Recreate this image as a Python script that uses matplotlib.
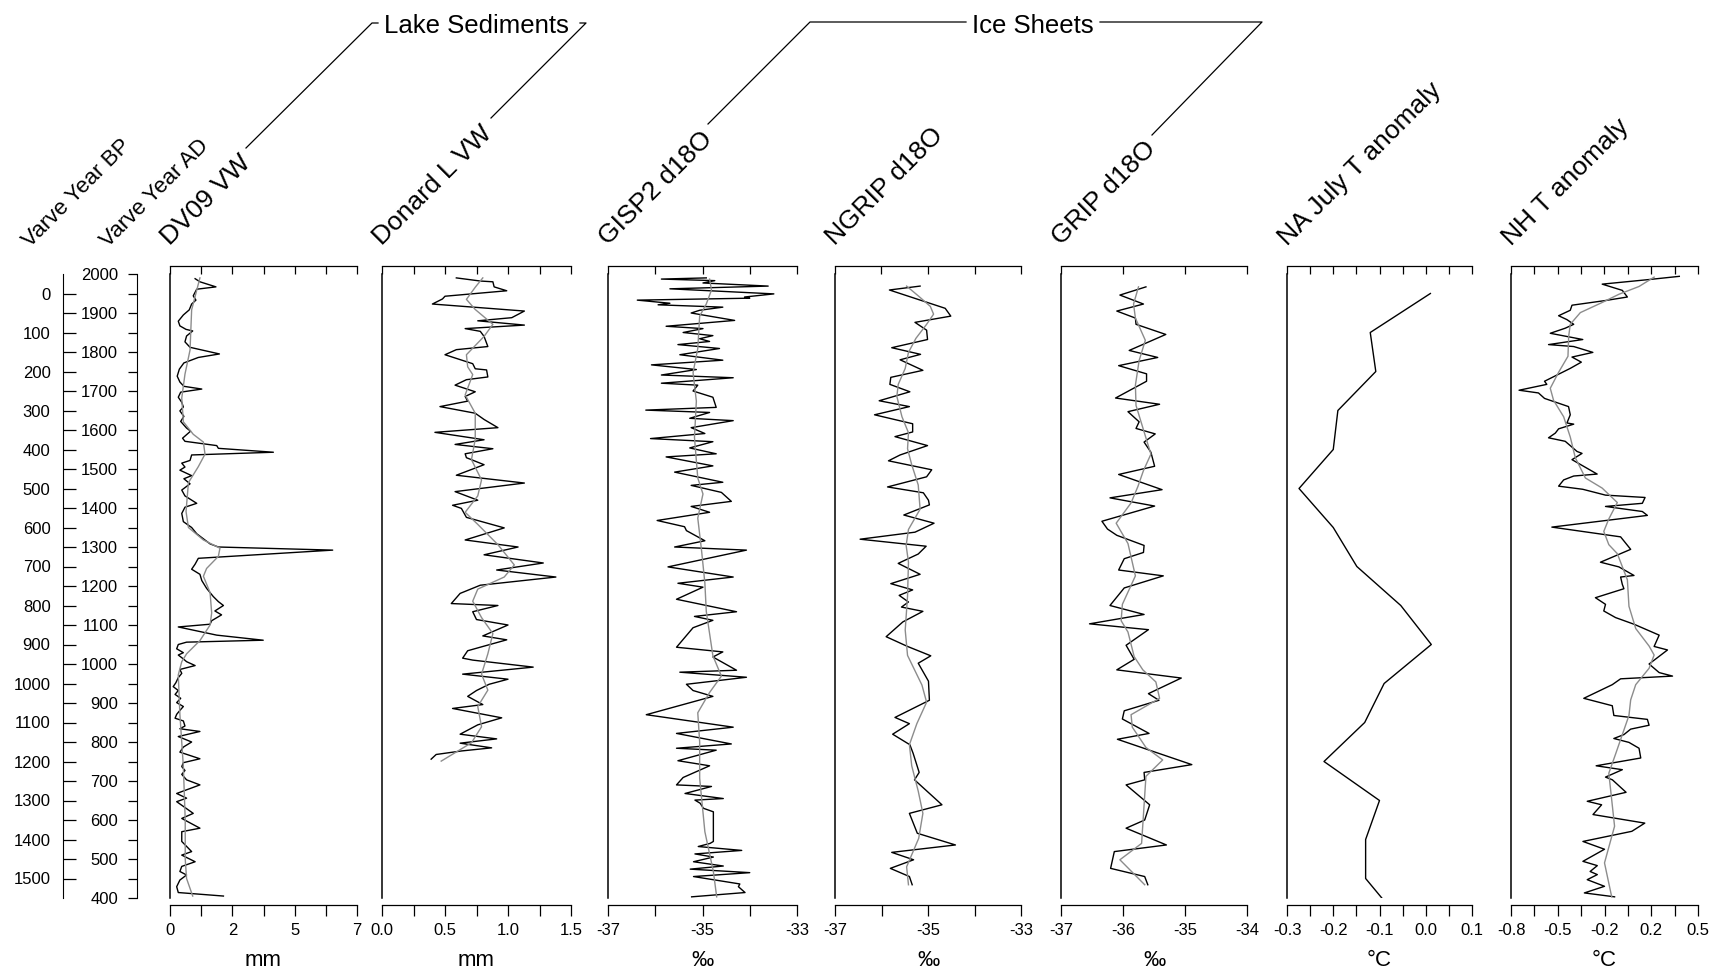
import matplotlib.pyplot as plt
import numpy as np
from matplotlib.lines import Line2D

plt.rcParams['font.family'] = ['Liberation Sans', 'DejaVu Sans']

W, H = 1711, 973

# ---- data, years AD ----
dv09_year = [1988, 1980, 1967, 1961, 1944, 1933, 1923, 1908, 1895, 1879,
             1867, 1858, 1854, 1841, 1826, 1812, 1795, 1786, 1772, 1756,
             1738, 1723, 1712, 1705, 1697, 1684, 1671, 1659, 1649, 1635,
             1622, 1605, 1597, 1579, 1571, 1560, 1553, 1543, 1536, 1522,
             1515, 1505, 1497, 1483, 1475, 1462, 1446, 1431, 1412, 1402,
             1386, 1365, 1350, 1334, 1308, 1300, 1292, 1271, 1256, 1243,
             1230, 1214, 1194, 1173, 1160, 1150, 1136, 1126, 1111, 1102,
             1095, 1085, 1074, 1061, 1056, 1050, 1039, 1029, 1023, 1013,
             1006, 996, 986, 976, 965, 952, 942, 932, 922, 912,
             901, 891, 881, 871, 861, 854, 841, 834, 827, 814,
             800, 787, 774, 757, 747, 737, 727, 717, 703, 690,
             668, 656, 647, 617, 604, 579, 570, 545, 519, 510,
             493, 481, 468, 459, 446, 429, 414, 405]
dv09_vw = [0.94, 1.12, 1.72, 1.0, 0.87, 0.97, 0.81, 0.72, 0.5, 0.31,
           0.37, 0.6, 0.85, 0.62, 0.56, 0.75, 1.85, 1.06, 0.52, 0.35,
           0.27, 0.37, 0.52, 1.19, 0.4, 0.31, 0.44, 0.5, 0.37, 0.52,
           0.4, 0.62, 0.77, 0.47, 0.56, 1.75, 1.81, 3.87, 0.81, 0.75,
           0.44, 0.56, 0.37, 0.81, 0.52, 0.75, 0.44, 0.56, 1.0, 0.56,
           0.44, 0.5, 0.81, 1.0, 1.5, 1.81, 6.09, 1.06, 0.94, 0.81,
           1.12, 1.19, 1.37, 1.62, 1.81, 2.0, 1.68, 1.93, 1.56, 1.5,
           0.31, 1.0, 1.75, 3.49, 0.62, 0.31, 0.25, 0.5, 0.31, 0.5,
           0.62, 0.94, 0.37, 0.44, 0.31, 0.22, 0.12, 0.31, 0.19, 0.4,
           0.25, 0.5, 0.37, 0.25, 0.19, 0.5, 0.56, 0.37, 1.12, 0.31,
           0.81, 0.5, 0.37, 1.12, 0.5, 0.44, 0.56, 0.44, 0.62, 1.12,
           0.25, 0.62, 0.25, 0.87, 0.44, 1.12, 0.44, 0.44, 0.81, 0.44,
           0.94, 0.44, 0.37, 0.62, 0.37, 0.25, 0.31, 2.0]
dv09_sm_year = [1990, 1908, 1805, 1743, 1682, 1621, 1589, 1569, 1538, 1506,
                1465, 1391, 1350, 1318, 1297, 1276, 1245, 1225, 1183, 1131,
                1100, 1060, 1026, 1006, 972, 871, 737, 600, 500, 450, 405]
dv09_sm = [1.12, 0.81, 0.75, 0.56, 0.44, 0.5, 0.87, 1.25, 1.31, 1.06,
           0.69, 0.6, 0.69, 1.25, 1.87, 1.81, 1.37, 1.25, 1.5, 1.56,
           1.5, 1.12, 0.62, 0.44, 0.31, 0.37, 0.5, 0.57, 0.57, 0.62, 0.85]

donard_year = [1990, 1982, 1980, 1967, 1957, 1943, 1936, 1923, 1905, 1888,
               1880, 1869, 1860, 1853, 1840, 1814, 1806, 1793, 1770, 1757,
               1754, 1736, 1729, 1715, 1698, 1686, 1674, 1660, 1643, 1627,
               1606, 1594, 1575, 1563, 1552, 1539, 1529, 1511, 1484, 1464,
               1442, 1420, 1407, 1399, 1376, 1349, 1318, 1300, 1280, 1259,
               1241, 1223, 1202, 1181, 1155, 1150, 1134, 1114, 1100, 1072,
               1062, 1044, 1034, 1015, 1010, 992, 974, 961, 948, 932,
               917, 896, 886, 862, 844, 820, 808, 797, 785, 777,
               768, 756]
donard_vw = [0.59, 0.78, 0.88, 0.89, 0.99, 0.50, 0.48, 0.40, 1.13, 1.03,
             0.76, 1.13, 0.66, 0.78, 0.81, 0.84, 0.59, 0.50, 0.72, 0.74,
             0.83, 0.84, 0.67, 0.58, 0.74, 0.66, 0.68, 0.46, 0.74, 0.81,
             0.92, 0.42, 0.81, 0.58, 0.88, 0.66, 0.67, 0.81, 0.59, 1.13,
             0.58, 0.76, 0.56, 0.63, 0.67, 0.97, 0.66, 1.08, 0.81, 1.28,
             0.91, 1.38, 0.78, 0.62, 0.55, 0.92, 0.72, 0.75, 1.0, 0.80,
             0.99, 0.79, 0.68, 0.64, 0.72, 1.2, 0.64, 1.0, 0.85, 0.75,
             0.68, 0.80, 0.56, 0.95, 0.76, 0.62, 0.91, 0.62, 0.87, 0.63,
             0.43, 0.39]
donard_sm_year = [1990, 1966, 1935, 1909, 1871, 1840, 1793, 1762, 1742, 1690,
                  1643, 1576, 1524, 1472, 1431, 1389, 1358, 1306, 1254, 1223,
                  1192, 1161, 1119, 1078, 1026, 974, 933, 891, 839, 798, 751]
donard_sm = [0.80, 0.74, 0.67, 0.74, 0.88, 0.81, 0.67, 0.68, 0.72, 0.66,
             0.74, 0.74, 0.71, 0.79, 0.76, 0.66, 0.76, 0.92, 1.05, 0.97,
             0.76, 0.72, 0.79, 0.88, 0.84, 0.79, 0.84, 0.76, 0.79, 0.71, 0.47]

gisp2_year = [1990, 1987, 1983, 1977, 1969, 1962, 1956, 1949, 1941, 1938,
              1933, 1925, 1921, 1915, 1907, 1900, 1881, 1866, 1860, 1850,
              1842, 1834, 1827, 1819, 1809, 1793, 1779, 1767, 1755, 1741,
              1734, 1720, 1715, 1700, 1684, 1658, 1651, 1645, 1630, 1624,
              1606, 1591, 1578, 1570, 1554, 1539, 1531, 1508, 1492, 1466,
              1458, 1440, 1417, 1404, 1389, 1368, 1352, 1342, 1316, 1300,
              1292, 1249, 1223, 1207, 1197, 1166, 1134, 1122, 1112, 1093,
              1043, 1031, 1018, 984, 979, 966, 948, 932, 917, 870,
              838, 822, 795, 784, 779, 752, 739, 709, 690, 686,
              668, 655, 651, 643, 630, 621, 545, 540, 532, 522,
              513, 505, 493, 482, 474, 465, 455, 436, 429, 414, 403]
gisp2_d18o = [-34.92, -35.87, -34.74, -34.99, -33.61, -35.69, -34.67, -33.49, -34.11, -34.0,
              -36.38, -35.69, -35.94, -34.57, -35.06, -35.24, -34.32, -35.77, -34.99, -35.41,
              -34.78, -35.06, -34.85, -35.52, -34.64, -35.48, -34.57, -36.08, -35.13, -35.87,
              -34.35, -35.87, -35.1, -35.2, -34.78, -34.71, -36.2, -34.85, -35.27, -34.35,
              -35.24, -34.95, -36.1, -34.78, -35.27, -34.71, -35.77, -34.78, -35.59, -34.57,
              -35.24, -34.6, -34.39, -35.24, -34.85, -35.96, -35.38, -35.34, -34.95, -35.59,
              -34.07, -35.73, -34.35, -35.52, -34.99, -35.55, -34.28, -35.17, -34.78, -35.2,
              -35.55, -34.57, -34.78, -34.28, -35.48, -34.07, -35.34, -35.2, -34.78, -36.19,
              -34.35, -35.55, -34.39, -35.55, -34.71, -35.52, -34.85, -35.41, -35.55, -34.81,
              -35.37, -34.56, -35.16, -35.05, -34.98, -34.77, -34.77, -34.84, -35.09, -34.17,
              -35.16, -34.77, -35.19, -34.56, -35.26, -34.0, -35.19, -34.21, -34.24, -34.1, -35.23]
gisp2_sm_year = [1987, 1959, 1923, 1892, 1809, 1747, 1674, 1581, 1477, 1436,
                 1374, 1291, 1208, 1135, 1021, 969, 927, 875, 800, 707,
                 570, 468, 403]
gisp2_sm = [-34.85, -34.81, -34.92, -35.06, -35.1, -35.2, -35.13, -35.17, -35.1, -34.99,
            -35.1, -35.02, -34.95, -34.92, -34.78, -34.6, -34.85, -35.1, -35.06, -35.06,
            -34.95, -34.77, -34.7]

ngrip_year = [1969, 1959, 1912, 1892, 1876, 1856, 1832, 1811, 1794, 1780,
              1753, 1735, 1717, 1698, 1675, 1660, 1639, 1616, 1595, 1583,
              1560, 1536, 1521, 1498, 1480, 1454, 1439, 1420, 1408, 1382,
              1361, 1338, 1320, 1302, 1282, 1258, 1230, 1206, 1190, 1176,
              1159, 1146, 1135, 1108, 1070, 1045, 1021, 1002, 956, 907,
              863, 847, 820, 793, 771, 722, 703, 639, 617, 566,
              536, 517, 498, 476, 455, 434]
ngrip_d18o = [-35.17, -35.83, -34.63, -34.51, -35.28, -35.03, -35.01, -35.78, -35.16, -35.6,
              -35.11, -35.8, -35.82, -35.39, -36.05, -35.4, -36.15, -35.33, -35.33, -35.71,
              -35.01, -35.6, -35.85, -34.92, -35.03, -35.87, -35.1, -34.99, -34.97, -35.52,
              -34.87, -35.28, -36.46, -35.04, -35.21, -35.64, -35.17, -35.8, -35.33, -35.62,
              -35.42, -35.57, -35.11, -35.54, -35.9, -35.44, -34.94, -35.21, -34.99, -34.97,
              -35.71, -35.4, -35.76, -35.39, -35.32, -35.19, -35.29, -34.7, -35.4, -35.23,
              -34.41, -35.78, -35.31, -35.81, -35.4, -35.34]
ngrip_sm_year = [1969, 1943, 1917, 1897, 1871, 1835, 1799, 1758, 1717, 1686,
                 1634, 1593, 1552, 1511, 1459, 1397, 1345, 1304, 1261, 1174,
                 1087, 1022, 946, 902, 847, 793, 739, 674, 617, 553, 480, 434]
ngrip_sm = [-35.46, -35.2, -34.95, -34.88, -35.03, -35.26, -35.42, -35.49, -35.64, -35.67,
            -35.56, -35.42, -35.44, -35.35, -35.21, -35.17, -35.42, -35.47, -35.42, -35.44,
            -35.49, -35.44, -35.13, -35.03, -35.24, -35.4, -35.35, -35.21, -35.11, -35.2,
            -35.46, -35.42]

grip_year = [1967, 1946, 1923, 1905, 1887, 1871, 1845, 1804, 1786, 1765,
             1744, 1725, 1682, 1666, 1647, 1621, 1604, 1590, 1569, 1543,
             1507, 1486, 1447, 1426, 1405, 1366, 1346, 1330, 1304, 1286,
             1270, 1241, 1226, 1195, 1150, 1127, 1103, 1088, 1048, 1012,
             985, 964, 924, 907, 880, 859, 822, 807, 742, 722,
             703, 690, 639, 600, 579, 536, 519, 476, 455, 434]
grip_d18o = [-35.63, -36.05, -35.67, -36.1, -35.8, -35.79, -35.31, -35.9, -35.44, -36.07,
             -35.62, -35.62, -36.12, -35.41, -35.92, -35.74, -35.79, -35.48, -35.66, -35.55,
             -35.49, -36.07, -35.37, -36.21, -35.49, -36.34, -36.25, -36.1, -35.66, -35.67,
             -35.98, -36.07, -35.35, -35.98, -36.21, -35.66, -36.54, -35.59, -35.95, -35.82,
             -36.1, -35.06, -35.59, -35.42, -35.98, -36.01, -35.58, -36.09, -34.89, -35.66,
             -35.65, -35.95, -35.57, -35.65, -35.95, -35.3, -36.14, -36.2, -35.65, -35.6]
grip_sm_year = [1967, 1923, 1887, 1830, 1778, 1715, 1663, 1611, 1538, 1496,
                1455, 1413, 1361, 1309, 1226, 1153, 1111, 1082, 1019, 985,
                954, 912, 870, 838, 786, 754, 712, 540, 498, 434]
grip_sm = [-35.75, -35.83, -35.8, -35.64, -35.74, -35.8, -35.79, -35.69, -35.55, -35.67,
           -35.76, -35.87, -36.11, -35.92, -35.8, -36.01, -36.03, -35.92, -35.82, -35.68,
           -35.47, -35.41, -35.87, -35.85, -35.63, -35.36, -35.63, -35.7, -36.05, -35.65]

na_july_year = [1950, 1850, 1750, 1650, 1550, 1450, 1350, 1250, 1150, 1050,
                950, 850, 750, 650, 550, 450, 400]
na_july_t = [0.01, -0.12, -0.108, -0.19, -0.2, -0.274, -0.2, -0.149, -0.054, 0.012,
             -0.09, -0.132, -0.22, -0.1, -0.13, -0.13, -0.095]

nh_year = [1994, 1986, 1974, 1958, 1941, 1932, 1920, 1907, 1893, 1883,
           1871, 1861, 1848, 1832, 1819, 1814, 1799, 1787, 1774, 1763,
           1758, 1725, 1717, 1702, 1695, 1681, 1660, 1639, 1618, 1615,
           1603, 1592, 1580, 1571, 1545, 1540, 1524, 1487, 1482, 1472,
           1456, 1448, 1433, 1427, 1412, 1404, 1391, 1381, 1351, 1326,
           1294, 1261, 1249, 1227, 1223, 1204, 1193, 1170, 1153, 1136,
           1119, 1102, 1074, 1045, 1036, 1000, 989, 978, 969, 962,
           947, 912, 893, 868, 858, 843, 833, 819, 809, 799,
           784, 759, 739, 729, 710, 703, 671, 648, 639, 614,
           592, 571, 545, 525, 494, 483, 468, 460, 447, 430,
           413, 403]
nh_t = [0.37, 0.165, -0.166, -0.026, 0.009, -0.143, -0.376, -0.388, -0.469, -0.411,
        -0.364, -0.423, -0.527, -0.301, -0.539, -0.364, -0.231, -0.376, -0.311, -0.364,
        -0.388, -0.567, -0.551, -0.744, -0.609, -0.567, -0.4, -0.388, -0.411, -0.364,
        -0.469, -0.492, -0.539, -0.423, -0.341, -0.306, -0.376, -0.201, -0.364, -0.434,
        -0.469, -0.301, -0.143, 0.132, 0.113, -0.143, 0.113, 0.148, -0.516, -0.038,
        0.032, -0.178, -0.05, 0.055, -0.038, -0.026, -0.015, -0.213, -0.143, -0.155,
        -0.073, 0.055, 0.23, 0.195, 0.288, 0.16, 0.195, 0.23, 0.323, -0.038,
        -0.096, -0.294, -0.096, -0.085, 0.148, 0.16, 0.032, -0.015, -0.085, 0.02,
        0.09, 0.102, -0.208, -0.026, -0.143, -0.095, 0.0, -0.27, -0.17, -0.23,
        0.13, 0.04, -0.30, -0.15, -0.30, -0.2, -0.25, -0.2, -0.27, -0.15,
        -0.29, -0.08]
nh_sm_year = [1992, 1968, 1948, 1927, 1901, 1871, 1840, 1789, 1748, 1707,
              1676, 1634, 1582, 1529, 1477, 1451, 1414, 1372, 1340, 1306,
              1283, 1261, 1216, 1148, 1091, 1046, 1023, 989, 947, 908,
              868, 819, 769, 720, 584, 490, 403]
nh_sm = [0.195, 0.09, -0.05, -0.166, -0.318, -0.388, -0.399, -0.404, -0.469, -0.527,
         -0.504, -0.434, -0.388, -0.353, -0.283, -0.166, -0.061, -0.12, -0.155, -0.12,
         -0.061, -0.038, 0.009, 0.02, 0.067, 0.16, 0.195, 0.16, 0.067, 0.032,
         0.02, -0.026, -0.073, -0.12, -0.08, -0.15, -0.1]

titles = ['DV09 VW', 'Donard L VW', 'GISP2 d18O', 'NGRIP d18O', 'GRIP d18O',
          'NA July T anomaly', 'NH T anomaly']
units = ['mm', 'mm', '‰', '‰', '‰', '°C', '°C']
xlims = [(0, 7), (0, 1.5), (-37, -33), (-37, -33), (-37, -34), (-0.3, 0.1), (-0.8, 0.5)]
n_ticks = [7, 7, 5, 5, 4, 9, 9]
tick_text = [['0', '', '2', '', '5', '', '7'],
             ['0.0', '', '0.5', '', '1.0', '', '1.5'],
             ['-37', '', '-35', '', '-33'],
             ['-37', '', '-35', '', '-33'],
             ['-37', '-36', '-35', '-34'],
             ['-0.3', '', '-0.2', '', '-0.1', '', '0.0', '', '0.1'],
             ['-0.8', '', '-0.5', '', '-0.2', '', '0.2', '', '0.5']]

series = [(dv09_year, dv09_vw, dv09_sm_year, dv09_sm),
          (donard_year, donard_vw, donard_sm_year, donard_sm),
          (gisp2_year, gisp2_d18o, gisp2_sm_year, gisp2_sm),
          (ngrip_year, ngrip_d18o, ngrip_sm_year, ngrip_sm),
          (grip_year, grip_d18o, grip_sm_year, grip_sm),
          (na_july_year, na_july_t, None, None),
          (nh_year, nh_t, nh_sm_year, nh_sm)]

# layout in pixels of the reference
panel_left = [170, 382, 608, 835, 1061, 1287, 1511]
panel_width = [187, 189, 189, 186, 186, 185, 187]
y_top, y_bot = 274, 898

fig = plt.figure(figsize=(W / 100, H / 100), dpi=100)
ax_b = 1 - y_bot / H
ax_h = (y_bot - y_top) / H

for i, (yr, val, syr, sval) in enumerate(series):
    ax = fig.add_axes([panel_left[i] / W, ax_b, panel_width[i] / W, ax_h])
    ax.patch.set_visible(False)
    ax.plot(val, yr, color='black', lw=1.0, zorder=3)
    if syr is not None:
        ax.plot(sval, syr, color='#8c8c8c', lw=1.0, zorder=4)
    ax.set_xlim(*xlims[i])
    ax.set_ylim(400, 2000)
    ax.spines['top'].set_visible(False)
    ax.spines['right'].set_visible(False)
    ax.spines['bottom'].set_position(('outward', 5))
    ax.spines['left'].set_linewidth(1.1)
    ax.spines['bottom'].set_linewidth(0.9)
    ticks = np.linspace(xlims[i][0], xlims[i][1], n_ticks[i])
    ax.set_xticks(ticks, tick_text[i])
    ax.tick_params(axis='x', direction='out', length=8, width=0.9, pad=5, labelsize=12)
    ax.tick_params(axis='y', left=False, labelleft=False)
    sec = ax.secondary_xaxis(1.0 + 7.5 / (y_bot - y_top))
    sec.set_xticks(ticks, [''] * len(ticks))
    sec.tick_params(direction='in', length=6, width=0.9)
    sec.spines['top'].set_linewidth(0.9)
    cx = (panel_left[i] + panel_width[i] / 2) / W
    fig.text(cx, 1 - 961 / H, units[i], ha='center', va='center', fontsize=16)
    fig.text(panel_left[i] / W, 1 - 246 / H, titles[i], rotation=45,
             rotation_mode='anchor', ha='left', va='baseline', fontsize=19)

# age axes
bp_major = np.arange(0, 1501, 100)
bp_minor = np.arange(50, 1500, 100)
ax_bp = fig.add_axes([63 / W, ax_b, 0.02, ax_h])
ax_bp.patch.set_visible(False)
ax_bp.set_ylim(400, 2000)
ax_bp.set_xticks([])
for s in ['top', 'right', 'bottom']:
    ax_bp.spines[s].set_visible(False)
ax_bp.set_yticks(1950 - bp_major, [str(v) for v in bp_major])
ax_bp.set_yticks(1950 - bp_minor, minor=True)
ax_bp.tick_params(axis='y', which='both', direction='in', length=9.5, width=0.9)
ax_bp.tick_params(axis='y', which='major', pad=9, labelsize=12)

ad_major = np.arange(400, 2001, 100)
ad_minor = np.arange(450, 2000, 100)
ax_ad = fig.add_axes([137 / W, ax_b, 0.02, ax_h])
ax_ad.patch.set_visible(False)
ax_ad.set_ylim(400, 2000)
ax_ad.set_xticks([])
for s in ['top', 'right', 'bottom']:
    ax_ad.spines[s].set_visible(False)
ax_ad.set_yticks(ad_major, [str(v) for v in ad_major])
ax_ad.set_yticks(ad_minor, minor=True)
ax_ad.tick_params(axis='y', which='both', direction='out', length=6.5, width=0.9)
ax_ad.tick_params(axis='y', which='major', pad=7, labelsize=12)

fig.text(30 / W, 1 - 248 / H, 'Varve Year BP', rotation=45, rotation_mode='anchor',
         ha='left', va='baseline', fontsize=16)
fig.text(108 / W, 1 - 248 / H, 'Varve Year AD', rotation=45, rotation_mode='anchor',
         ha='left', va='baseline', fontsize=16)

# group headers with bracket lines
fig.text(476 / W, 1 - 33 / H, 'Lake Sediments', ha='center', va='baseline', fontsize=18.5)
fig.text(1033 / W, 1 - 33 / H, 'Ice Sheets', ha='center', va='baseline', fontsize=18.5)
brackets = [[(246, 148), (372, 23), (378, 23)],
            [(580, 23), (586, 23), (491, 118)],
            [(708, 124), (810, 22), (966, 22)],
            [(1100, 22), (1262, 22), (1152, 135)]]
for pts in brackets:
    xs = [p[0] / W for p in pts]
    ys = [1 - p[1] / H for p in pts]
    fig.add_artist(Line2D(xs, ys, transform=fig.transFigure, color='black', lw=0.9))

fig.savefig('out.png', dpi=100)
